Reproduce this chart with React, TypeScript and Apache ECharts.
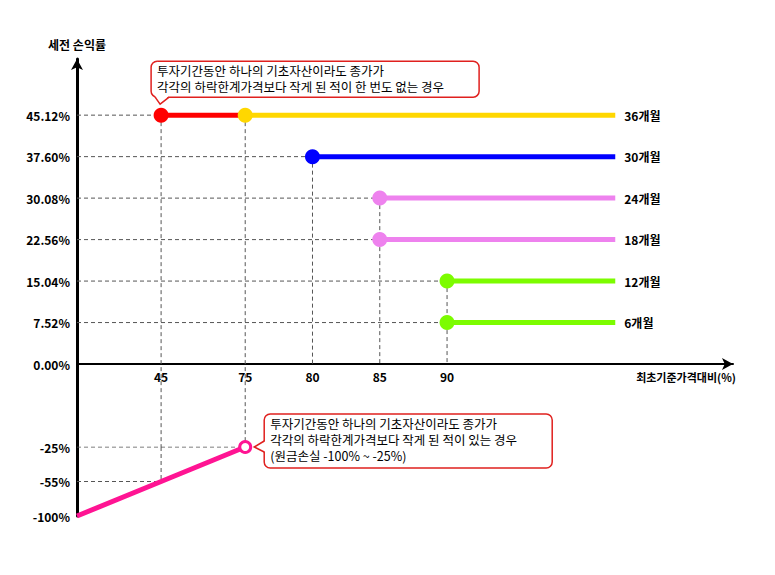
import React, { useEffect, useRef } from 'react';
import * as echarts from 'echarts';

// 최초기준가격대비(%) 눈금
const xLevels = ['0', '45', '75', '80', '85', '90'];
// 상환 시점별 세전 수익률(%)과 상환 조건(최초기준가격대비 %)
const periods = ['36개월', '30개월', '24개월', '18개월', '12개월', '6개월'];
const periodReturns = [45.12, 37.6, 30.08, 22.56, 15.04, 7.52];
const periodBarriers = ['75', '80', '85', '85', '90', '90'];
// 하락한계가격: 한 번도 밑돈 적이 없으면 45 이상에서도 36개월 수익
const knockInLevel = '45';
// 하락한계가격을 밑돈 적이 있는 경우 원금손실 구간
const lossLevels = ['0', '45', '75'];
const lossReturns = [-100, -55, -25];

const noKnockInText = [
  '투자기간동안 하나의 기초자산이라도 종가가',
  '각각의 하락한계가격보다 작게 된 적이 한 번도 없는 경우',
];
const knockInText = [
  '투자기간동안 하나의 기초자산이라도 종가가',
  '각각의 하락한계가격보다 작게 된 적이 있는 경우',
  '(원금손실 -100% ~ -25%)',
];

// 원본처럼 x축은 비례가 아닌 도식적 간격
const levelSlots = [0, 5, 10, 14, 18, 22];
const END_SLOT = 32;
const SLOT_COUNT = 40;
// 위쪽 grid는 0% 아래로 조금 내려서 손실 grid와 이어지게
const Y_MIN = -15.04;
const Y_MAX = 55.3;
const Y_STEP = 7.52;

const periodColors = ['#ffd700', '#0000ff', '#ee82ee', '#ee82ee', '#7cfc00', '#7cfc00'];
const RED = '#ff0000';
const PINK = '#ff1493';
const BOX_RED = '#e0201e';
const FONT = '"Noto Sans CJK KR", "Noto Sans", sans-serif';

const slotOf = (lv: string) => levelSlots[xLevels.indexOf(lv)];
const categories = Array.from({ length: SLOT_COUNT }, (_, i) => {
  const k = levelSlots.indexOf(i);
  return k >= 0 ? xLevels[k] : '';
});

const boldLabel = { color: '#000', fontSize: 12, fontWeight: 'bold' as const, fontFamily: FONT };

const dashSeries = (data: any[], grid: number) => ({
  type: 'line',
  xAxisIndex: grid,
  yAxisIndex: grid,
  data,
  symbol: 'none',
  silent: true,
  lineStyle: { color: '#555', width: 1, type: [4, 3] },
});

// 점선 보조선
const firstLevel = periods.map((_, i) => (i === 0 ? knockInLevel : periodBarriers[i]));
const guideSeries: any[] = [];
periods.forEach((_, i) => {
  guideSeries.push(dashSeries([[0, periodReturns[i]], [slotOf(firstLevel[i]), periodReturns[i]]], 0));
});
Array.from(new Set([knockInLevel, ...periodBarriers])).forEach((lv) => {
  const top = Math.max(
    ...periodReturns.filter((_, i) => firstLevel[i] === lv || periodBarriers[i] === lv)
  );
  const bottom = lossLevels.includes(lv) ? Y_MIN : 0;
  guideSeries.push(dashSeries([[slotOf(lv), top], [slotOf(lv), bottom]], 0));
});
const lossTop = lossReturns.length - 1;
lossLevels.forEach((lv, i) => {
  if (i === 0) return;
  guideSeries.push(dashSeries([[0, i], [slotOf(lv), i]], 1));
  if (i !== lossTop) guideSeries.push(dashSeries([[slotOf(lv), lossTop], [slotOf(lv), i]], 1));
});

const options: any = {
  animation: false,
  grid: [
    { left: 77, right: 42, top: 59, bottom: 128, outerBoundsMode: 'none' },
    { left: 77, right: 42, top: 447, bottom: 59, outerBoundsMode: 'none' },
  ],
  xAxis: [
    {
      type: 'category',
      gridIndex: 0,
      data: categories,
      boundaryGap: false,
      axisLine: {
        onZero: false,
        symbol: ['none', 'arrow'],
        symbolSize: [9, 11],
        lineStyle: { color: '#000', width: 2 },
      },
      axisTick: { show: false },
      axisLabel: { ...boldLabel, interval: 0, margin: 6, formatter: (v: string) => (v === '0' ? '' : v) },
      name: '최초기준가격대비(%)',
      nameLocation: 'end',
      nameGap: 3,
      nameTextStyle: {
        ...boldLabel,
        fontSize: 11,
        align: 'right',
        verticalAlign: 'top',
        padding: [7, 0, 0, 0],
      },
    },
    {
      type: 'category',
      gridIndex: 1,
      data: categories,
      boundaryGap: false,
      show: false,
    },
  ],
  yAxis: [
    {
      type: 'value',
      gridIndex: 0,
      min: Y_MIN,
      max: Y_MAX,
      interval: Y_STEP,
      axisLine: {
        show: true,
        symbol: ['none', 'arrow'],
        symbolSize: [9, 11],
        lineStyle: { color: '#000', width: 3 },
      },
      axisTick: { show: false },
      splitLine: { show: false },
      axisLabel: {
        ...boldLabel,
        margin: 7,
        formatter: (v: number) => {
          const hit = [0, ...periodReturns].find((r) => Math.abs(r - v) < 0.01);
          return hit === undefined ? '' : hit.toFixed(2) + '%';
        },
      },
      name: '세전 손익률',
      nameLocation: 'end',
      nameGap: 9,
      nameTextStyle: { ...boldLabel },
    },
    {
      type: 'category',
      gridIndex: 1,
      data: lossReturns.map((v) => v + '%'),
      boundaryGap: false,
      axisLine: { show: true, lineStyle: { color: '#000', width: 3 } },
      axisTick: { show: false },
      splitLine: { show: false },
      axisLabel: { ...boldLabel, interval: 0, margin: 7 },
    },
  ],
  series: [
    ...guideSeries,
    {
      name: '하락한계 미도달',
      type: 'line',
      data: [
        [slotOf(knockInLevel), periodReturns[0]],
        { value: [slotOf(periodBarriers[0]), periodReturns[0]], symbol: 'none' },
      ],
      symbol: 'circle',
      symbolSize: 15,
      lineStyle: { color: RED, width: 5 },
      itemStyle: { color: RED },
    },
    ...periods.map((name, i) => ({
      name,
      type: 'line',
      data: [
        [slotOf(periodBarriers[i]), periodReturns[i]],
        { value: [END_SLOT, periodReturns[i]], symbol: 'none' },
      ],
      symbol: 'circle',
      symbolSize: 15,
      lineStyle: { color: periodColors[i], width: 5 },
      itemStyle: { color: periodColors[i] },
      endLabel: { show: true, formatter: '{a}', distance: 9, ...boldLabel },
    })),
    {
      name: '원금손실',
      type: 'line',
      xAxisIndex: 1,
      yAxisIndex: 1,
      data: lossLevels.map((lv, i) => ({
        value: [slotOf(lv), i],
        symbol: i === lossTop ? 'circle' : 'none',
      })),
      symbolSize: 11,
      lineStyle: { color: PINK, width: 5 },
      itemStyle: { color: '#fff', borderColor: PINK, borderWidth: 3 },
    },
  ],
};

// 말풍선 (rect + 꼬리)
const callout = (
  box: { x: number; y: number; w: number; h: number },
  base: number[][],
  tip: number[],
  cover: number[][],
  lines: string[],
  lineHeight: number
) => ({
  type: 'group',
  z: 100,
  children: [
    {
      type: 'rect',
      shape: { x: box.x, y: box.y, width: box.w, height: box.h, r: 6 },
      style: { fill: '#fff', stroke: BOX_RED, lineWidth: 1.5 },
    },
    {
      type: 'polygon',
      shape: { points: [cover[0], tip, cover[1]] },
      style: { fill: '#fff' },
    },
    {
      type: 'polyline',
      shape: { points: [base[0], tip, base[1]] },
      style: { stroke: BOX_RED, lineWidth: 1.5, fill: 'none' },
    },
    ...lines.map((line, i) => ({
      type: 'text',
      x: box.x + 6,
      y: box.y + 2 + lineHeight * (i + 0.5),
      style: {
        text: line,
        fill: '#000',
        font: `12.5px ${FONT}`,
        verticalAlign: 'middle',
      },
    })),
  ],
});

const App = () => {
  const chartRef = useRef<HTMLDivElement>(null);

  useEffect(() => {
    document.body.style.margin = '0';
    const chart = echarts.init(chartRef.current!, null, { renderer: 'svg' });
    chart.setOption(options);

    // x축을 0% 위치로 올림 (라벨도 함께)
    const zeroY = chart.convertToPixel({ yAxisIndex: 0 }, 0) as number;
    const bottomY = chart.convertToPixel({ yAxisIndex: 0 }, Y_MIN) as number;

    const [ax, ay] = chart.convertToPixel({ gridIndex: 0 }, [slotOf(knockInLevel), periodReturns[0]]);
    const [bx, by] = chart.convertToPixel({ gridIndex: 1 }, [slotOf(lossLevels[lossTop]), lossTop]);

    const b1 = { x: ax - 10, y: ay - 54, w: 328, h: 36 };
    const b1Bottom = b1.y + b1.h;
    const b2 = { x: bx + 19, y: by - 33, w: 288, h: 54 };

    chart.setOption({
      xAxis: [{ offset: zeroY - bottomY }],
      graphic: [
        callout(
          b1,
          [[ax - 6, b1Bottom], [ax + 8, b1Bottom]],
          [ax - 1, ay - 11],
          [[ax - 6, b1Bottom - 1.5], [ax + 8, b1Bottom - 1.5]],
          noKnockInText,
          15.5
        ),
        callout(
          b2,
          [[b2.x, by - 6], [b2.x, by + 5]],
          [bx + 9, by],
          [[b2.x + 1.5, by - 6], [b2.x + 1.5, by + 5]],
          knockInText,
          15.8
        ),
      ],
    });

    return () => {
      chart.dispose();
    };
  }, []);

  return <div style={{ width: '775px', height: '575px' }} ref={chartRef}></div>;
};

export default App;
